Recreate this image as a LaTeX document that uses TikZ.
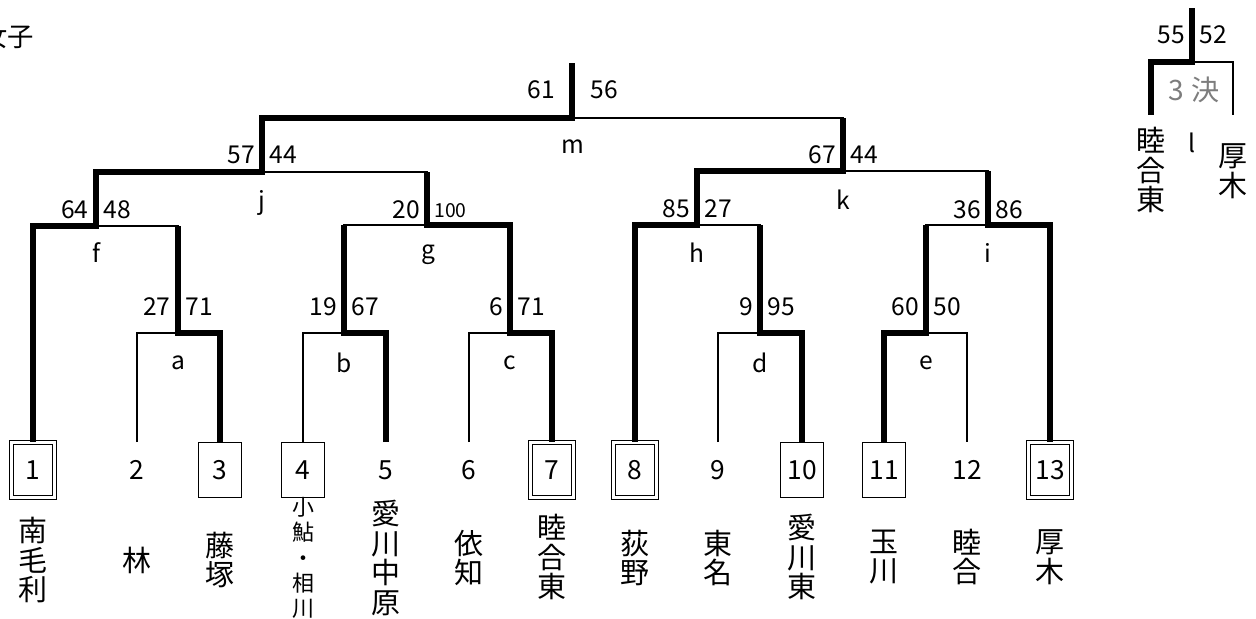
\documentclass[tikz,border=0pt]{standalone}
\usepackage{fontspec}
\setmainfont{Noto Sans CJK JP}
\usepackage{xcolor}
\usetikzlibrary{calc}

\definecolor{inkgray}{RGB}{125,125,125}

\tikzset{
  win/.style={line width=2.9pt, line join=miter},
  lose/.style={line width=0.85pt},
  sbox/.style={draw, line width=0.8pt, minimum width=43*0.02cm, minimum height=55*0.02cm, inner sep=0pt},
  dbox/.style={draw, double, double distance=1.5pt, line width=0.75pt, minimum width=43*0.02cm, minimum height=55*0.02cm, inner sep=0pt},
  nobox/.style={minimum width=43*0.02cm, minimum height=55*0.02cm, inner sep=0pt},
  seed/.style={font=\fontsize{15}{17}\selectfont},
  score/.style={font=\fontsize{14}{16}\selectfont, inner sep=0pt},
  letter/.style={font=\fontsize{14}{16}\selectfont, inner sep=0pt},
  team/.style={font=\fontsize{16.5}{17}\selectfont, align=center, inner sep=0pt},
  smallteam/.style={font=\fontsize{12.5}{14.4}\selectfont, align=center, inner sep=0pt},
}

\begin{document}
\begin{tikzpicture}[x=0.02cm, y=-0.02cm]
\useasboundingbox (0,0) rectangle (1256,618);

\node[anchor=east, font=\fontsize{15}{17}\selectfont] (title) at (40,37) {女子};

% entries
\node[dbox, seed] (n1) at (33,470) {1};
\node[nobox, seed] (n2) at (137,470) {2};
\node[sbox, seed] (n3) at (220,470) {3};
\node[sbox, seed] (n4) at (303,470) {4};
\node[nobox, seed] (n5) at (386,470) {5};
\node[nobox, seed] (n6) at (469,470) {6};
\node[dbox, seed] (n7) at (552,470) {7};
\node[dbox, seed] (n8) at (635,470) {8};
\node[nobox, seed] (n9) at (718,470) {9};
\node[sbox, seed] (n10) at (802,470) {10};
\node[sbox, seed] (n11) at (884,470) {11};
\node[nobox, seed] (n12) at (967,470) {12};
\node[dbox, seed] (n13) at (1050,470) {13};

% team names
\node[team] (s1) at (33,560) {南\\毛\\利};
\node[team] (s2) at (137,560) {林};
\node[team] (s3) at (220,560) {藤\\塚};
\node[smallteam] (s4) at (303,558) {小\\鮎\\・\\相\\川};
\node[team] (s5) at (386,558) {愛\\川\\中\\原};
\node[team] (s6) at (469,558) {依\\知};
\node[team] (s7) at (552,557) {睦\\合\\東};
\node[team] (s8) at (635,558) {荻\\野};
\node[team] (s9) at (718,558) {東\\名};
\node[team] (s10) at (802,557) {愛\\川\\東};
\node[team] (s11) at (884,557) {玉\\川};
\node[team] (s12) at (967,557) {睦\\合};
\node[team] (s13) at (1050,557) {厚\\木};

% match points
\coordinate (a) at (178,333);
\coordinate (b) at (344,333);
\coordinate (c) at (510,333);
\coordinate (d) at (760,333);
\coordinate (e) at (926,333);
\coordinate (f) at (96,226);
\coordinate (g) at (427,225);
\coordinate (h) at (697,225);
\coordinate (i) at (988,225);
\coordinate (j) at (262,172);
\coordinate (k) at (843,171);
\coordinate (m) at (572,118);
\coordinate (top) at (572,63);

% thin bracket
\draw[lose] (n2.north) |- (a) -| (n3.north);
\draw[lose] (n4.north) |- (b) -| (n5.north);
\draw[lose] (n6.north) |- (c) -| (n7.north);
\draw[lose] (n9.north) |- (d) -| (n10.north);
\draw[lose] (n11.north) |- (e) -| (n12.north);
\draw[lose] (n1.north) |- (f) -| (a);
\draw[lose] (b) |- (g) -| (c);
\draw[lose] (n8.north) |- (h) -| (d);
\draw[lose] (e) |- (i) -| (n13.north);
\draw[lose] (f) |- (j) -| (g);
\draw[lose] (h) |- (k) -| (i);
\draw[lose] (j) |- (m) -| (k);

% winners
\draw[win] (n1.north) |- (f) |- (j) |- (m) -- (top);
\draw[win] (n3.north) |- (a) -- (a |- f);
\draw[win] (n5.north) |- (b) -- (b |- g);
\draw[win] (n7.north) |- (c) |- (g) -- (g |- j);
\draw[win] (n8.north) |- (h) |- (k) -- (k |- m);
\draw[win] (n10.north) |- (d) -- (d |- h);
\draw[win] (n11.north) |- (e) -- (e |- i);
\draw[win] (n13.north) |- (i) -- (i |- k);

% match letters
\node[letter] (la) at (178,363) {a};
\node[letter] (lb) at (344,363) {b};
\node[letter] (lc) at (510,363) {c};
\node[letter] (ld) at (760,363) {d};
\node[letter] (le) at (926,363) {e};
\node[letter] (lf) at (96,253) {f};
\node[letter] (lg) at (428,255) {g};
\node[letter] (lh) at (697,253) {h};
\node[letter] (li) at (988,253) {i};
\node[letter] (lj) at (262,203) {j};
\node[letter] (lk) at (843,200) {k};
\node[letter] (lm) at (573,147) {m};

% scores
\node[score, anchor=east] (a1) at (171,307) {27};
\node[score, anchor=west] (a2) at (185,307) {71};
\node[score, anchor=east] (b1) at (337,307) {19};
\node[score, anchor=west] (b2) at (351,307) {67};
\node[score, anchor=east] (c1) at (503,307) {6};
\node[score, anchor=west] (c2) at (517,307) {71};
\node[score, anchor=east] (d1) at (753,307) {9};
\node[score, anchor=west] (d2) at (767,307) {95};
\node[score, anchor=east] (e1) at (919,307) {60};
\node[score, anchor=west] (e2) at (933,307) {50};
\node[score, anchor=east] (f1) at (89,210) {64};
\node[score, anchor=west] (f2) at (103,210) {48};
\node[score, anchor=east] (g1) at (420,210) {20};
\node[score, anchor=west, font=\fontsize{11}{13}\selectfont] (g2) at (434,211) {100};
\node[score, anchor=east] (h1) at (690,209) {85};
\node[score, anchor=west] (h2) at (704,209) {27};
\node[score, anchor=east] (i1) at (981,210) {36};
\node[score, anchor=west] (i2) at (995,210) {86};
\node[score, anchor=east] (j1) at (255,155) {57};
\node[score, anchor=west] (j2) at (269,155) {44};
\node[score, anchor=east] (k1) at (836,155) {67};
\node[score, anchor=west] (k2) at (850,155) {44};
\node[score, anchor=east] (m1) at (555,90) {61};
\node[score, anchor=west] (m2) at (590,90) {56};

% third place
\coordinate (l) at (1192,62);
\coordinate (ltop) at (1192,8);
\coordinate (l1) at (1151,115);
\coordinate (l2) at (1233,115);
\draw[lose] (l1) |- (l) -| (l2);
\draw[win] (l1) |- (l) -- (ltop);
\node[score, anchor=east] (p1) at (1185,35) {55};
\node[score, anchor=west] (p2) at (1199,35) {52};
\node[letter, text=inkgray, font=\fontsize{16}{18}\selectfont] (third) at (1194,90) {3\;決};
\node[letter] (ll) at (1192,143) {l};
\node[team] (q1) at (1151,170) {睦\\合\\東};
\node[team] (q2) at (1233,171) {厚\\木};
\end{tikzpicture}
\end{document}
